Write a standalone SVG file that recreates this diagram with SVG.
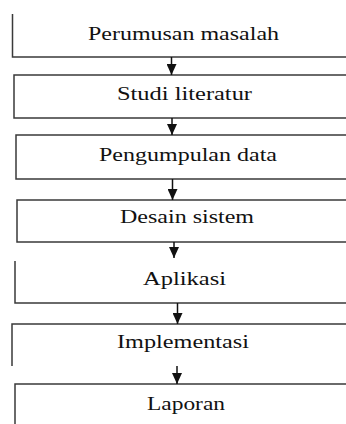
<svg xmlns="http://www.w3.org/2000/svg" width="346" height="424" viewBox="0 0 346 424">
<defs>
<style>
.b{fill:none;stroke:#3a3a3a;stroke-width:1.5}
.t{font-family:"Liberation Serif","Times New Roman",serif;font-size:18px;fill:#111}
.c{stroke:#111;stroke-width:1.5;fill:none}
</style>
<marker id="ah" markerUnits="userSpaceOnUse" markerWidth="11" markerHeight="10" refX="11" refY="5" orient="auto">
<path d="M0,0 L11,5 L0,10 Z" fill="#111"/>
</marker>
</defs>
<rect width="346" height="424" fill="#fff"/>
<g id="n1">
<path class="b" d="M12.5,14 V57 H346"/>
<text class="t" x="88" y="40" textLength="191" lengthAdjust="spacingAndGlyphs">Perumusan masalah</text>
</g>
<g id="n2">
<path class="b" d="M346,75 H14 V118 H346"/>
<text class="t" x="117" y="100" textLength="135" lengthAdjust="spacingAndGlyphs">Studi literatur</text>
</g>
<g id="n3">
<path class="b" d="M346,135 H16 V179 H346"/>
<text class="t" x="99" y="161" textLength="178" lengthAdjust="spacingAndGlyphs">Pengumpulan data</text>
</g>
<g id="n4">
<path class="b" d="M346,200 H17 V242 H346"/>
<text class="t" x="120" y="223" textLength="134" lengthAdjust="spacingAndGlyphs">Desain sistem</text>
</g>
<g id="n5">
<path class="b" d="M15,261 V303 H346"/>
<text class="t" x="143" y="285" textLength="83" lengthAdjust="spacingAndGlyphs">Aplikasi</text>
</g>
<g id="n6">
<path class="b" d="M346,324 H12 V366"/>
<text class="t" x="117" y="348" textLength="132" lengthAdjust="spacingAndGlyphs">Implementasi</text>
</g>
<g id="n7">
<path class="b" d="M346,384 H15 V424"/>
<text class="t" x="147" y="410" textLength="78" lengthAdjust="spacingAndGlyphs">Laporan</text>
</g>
<g id="connectors">
<line class="c" x1="171.5" y1="57" x2="171.5" y2="75" marker-end="url(#ah)"/>
<line class="c" x1="172" y1="118" x2="172" y2="135" marker-end="url(#ah)"/>
<line class="c" x1="172.5" y1="179" x2="172.5" y2="200" marker-end="url(#ah)"/>
<line class="c" x1="174" y1="242" x2="174" y2="258" marker-end="url(#ah)"/>
<line class="c" x1="177.5" y1="303" x2="177.5" y2="324" marker-end="url(#ah)"/>
<line class="c" x1="177" y1="366" x2="177" y2="384" marker-end="url(#ah)"/>
</g>
</svg>
